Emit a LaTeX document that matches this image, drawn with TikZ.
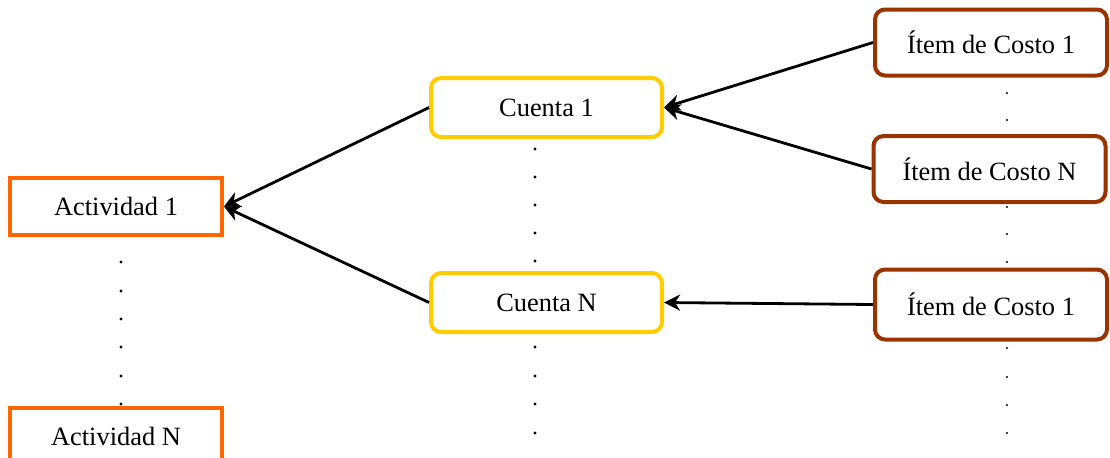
\documentclass[tikz,border=0pt]{standalone}
\usepackage{fontspec}
\setmainfont{Liberation Serif}
\usetikzlibrary{arrows.meta}
\definecolor{actcol}{HTML}{FF6600}
\definecolor{ctacol}{HTML}{FFCC00}
\definecolor{itmcol}{HTML}{993300}
\tikzset{
  actbox/.style={draw=actcol, line width=2pt, fill=white, inner sep=0pt,
    minimum width=106pt, minimum height=28.5pt},
  ctabox/.style={draw=ctacol, line width=2pt, fill=white, rounded corners=5pt, inner sep=0pt,
    minimum width=115.5pt, minimum height=29.5pt},
  itmbox/.style={draw=itmcol, line width=2pt, fill=white, rounded corners=5pt, inner sep=0pt,
    minimum width=116pt, minimum height=33pt},
  link/.style={line width=1.4pt, -{Stealth[length=8pt,width=8pt,inset=2.5pt]}},
  bigdot/.style={fill=black},
}
\begin{document}
\begin{tikzpicture}[x=0.5pt,y=-0.5pt,font=\fontsize{13.2pt}{15pt}\selectfont]
\useasboundingbox (0,0) rectangle (1110,457);
\clip (0,0) rectangle (1110,457);

% vertical ellipsis dots
\foreach \y in {262,291,319,347,376,404} \fill[bigdot] (121,\y) circle (1.6);
\foreach \y in {149,177,205,233,261,347,376,404,433} \fill[bigdot] (535,\y) circle (1.6);
\foreach \y in {93,120,207,234,262,348,377,405,433} \fill[bigdot] (1007,\y) circle (1.1);

% activities
\node[actbox] (a1) at (116,206.5) {Actividad 1};
\node[actbox] (aN) at (116,436) {Actividad N};

% accounts
\node[ctabox] (c1) at (546.5,107.5) {Cuenta 1};
\node[ctabox] (cN) at (546.5,302.5) {Cuenta N};

% cost items
\node[itmbox] (i1) at (991,42.5) {Ítem de Costo 1};
\node[itmbox] (iN) at (989.5,169) {Ítem de Costo N};
\node[itmbox, minimum height=35pt] (i1b) at (991,304.5) {Ítem de Costo 1};

% connectors
\draw[link] (c1.west) -- (a1.east);
\draw[link] (cN.west) -- (a1.east);
\draw[link] (i1.west) -- (c1.east);
\draw[link] (iN.west) -- (c1.east);
\draw[link] (i1b.west) -- (cN.east);
\end{tikzpicture}
\end{document}
